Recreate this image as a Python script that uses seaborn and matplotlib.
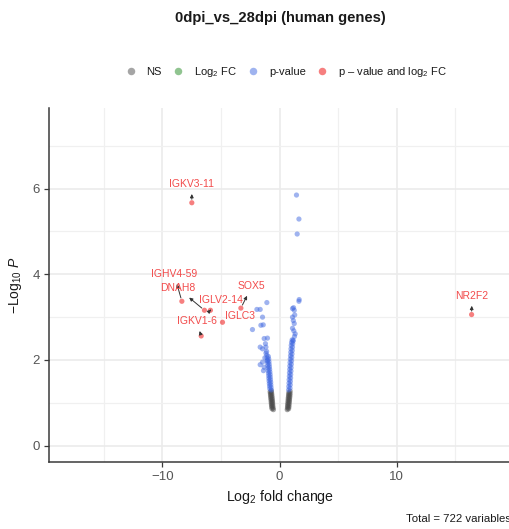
import matplotlib
matplotlib.use("Agg")
import matplotlib.pyplot as plt
import seaborn as sns
import pandas as pd
from matplotlib.lines import Line2D

# ---------------- data ----------------
# non-significant (grey) points: left and right arm bottoms
ns_x = [-0.52, -0.64, -0.55, -0.67, -0.57, -0.68, -0.58, -0.70, -0.59, -0.71, -0.60, -0.72,
        -0.62, -0.74, -0.63, -0.75, -0.65, -0.77, -0.66, -0.78, -0.68, -0.80, -0.70,
        0.66, 0.78, 0.68, 0.80, 0.69, 0.81, 0.70, 0.82, 0.72, 0.84, 0.73, 0.85,
        0.74, 0.86, 0.75, 0.88, 0.77, 0.89, 0.78, 0.90, 0.80, 0.91]
ns_y = [0.84, 0.86, 0.88, 0.90, 0.92, 0.94, 0.96, 0.98, 1.00, 1.02, 1.04, 1.06,
        1.08, 1.10, 1.12, 1.14, 1.16, 1.18, 1.20, 1.22, 1.24, 1.26, 1.28,
        0.84, 0.86, 0.88, 0.90, 0.92, 0.94, 0.96, 0.98, 1.00, 1.02, 1.04, 1.06,
        1.08, 1.10, 1.12, 1.14, 1.16, 1.18, 1.20, 1.22, 1.24, 1.27]

# p-value only (blue) points
pv_x = [-0.70, -0.83, -0.72, -0.85, -0.74, -0.87, -0.75, -0.89, -0.77, -0.91, -0.79, -0.92,
        -0.80, -0.94, -0.82, -0.96, -0.84, -0.98, -0.86, -1.00, -0.88, -1.02, -0.90, -1.04,
        -0.92, -1.06, -0.95, -1.08,
        -1.31, -1.03, -1.65, -1.45, -1.16, -1.20, -1.16, -1.65, -1.45, -1.31, -1.37,
        -1.08, -1.93, -1.65, -1.45, -1.39, -2.31, -1.59, -1.10, -1.25, -1.05,
        0.78, 0.90, 0.79, 0.92, 0.81, 0.93, 0.82, 0.95, 0.84, 0.96, 0.85, 0.98, 0.87,
        0.99, 0.88, 1.01, 0.90, 1.03, 0.92, 1.05, 0.94, 1.07, 0.96, 1.09, 0.98, 1.11,
        1.00, 1.13, 1.03, 1.15, 1.08,
        1.68, 1.66, 1.11, 1.26, 1.11, 1.26, 1.11, 1.34, 1.17, 1.20, 1.30, 1.18, 1.22, 1.28,
        1.45, 1.66, 1.51]
pv_y = [1.30, 1.33, 1.36, 1.39, 1.42, 1.45, 1.48, 1.51, 1.54, 1.57, 1.60, 1.63,
        1.66, 1.69, 1.72, 1.75, 1.78, 1.81, 1.84, 1.87, 1.90, 1.93, 1.96, 1.99,
        2.02, 2.05, 2.08, 2.11,
        2.50, 2.51, 2.30, 2.26, 2.30, 2.38, 2.16, 1.89, 1.95, 1.83, 1.75,
        3.34, 3.18, 3.18, 3.00, 2.82, 2.71, 2.81, 2.20, 2.05, 1.98,
        1.30, 1.34, 1.38, 1.42, 1.46, 1.50, 1.54, 1.58, 1.62, 1.66, 1.70, 1.74, 1.78,
        1.82, 1.86, 1.90, 1.94, 1.98, 2.02, 2.06, 2.10, 2.14, 2.18, 2.22, 2.26, 2.30,
        2.34, 2.38, 2.41, 2.44, 2.47,
        3.41, 3.37, 3.20, 3.16, 3.00, 2.85, 2.74, 2.61, 2.46, 3.22, 3.05, 2.92, 2.68, 2.55,
        5.85, 5.29, 4.94]

# p-value and log2 FC (red) labelled genes
sig_genes = ["IGKV3-11", "IGHV4-59", "DNAH8", "IGLV2-14", "SOX5", "IGLC3", "IGKV1-6", "NR2F2"]
sig_x = [-7.49, -8.34, -6.41, -5.90, -3.30, -4.87, -6.69, 16.41]
sig_y = [5.67, 3.37, 3.16, 3.16, 3.21, 2.88, 2.56, 3.06]
# repelled label positions
lab_x = [-7.49, -9.00, -8.66, -5.00, -2.36, -3.36, -7.09, 16.44]
lab_y = [6.10, 4.00, 3.67, 3.39, 3.72, 3.02, 2.90, 3.49]
lab_arrow = [True, True, True, True, True, False, True, True]

categories = ["NS", "Log$_2$ FC", "p-value", "p – value and log$_2$ FC"]
cat_colors = ["#4D4D4D", "#228B22", "#4169E1", "#EE0000"]
x_ticks = [-10, 0, 10]
y_ticks = [0, 2, 4, 6]
total_vars = 722

# ---------------- build table ----------------
df = pd.DataFrame({
    "log2FC": ns_x + pv_x + sig_x,
    "nlog10p": ns_y + pv_y + sig_y,
    "group": [categories[0]] * len(ns_x) + [categories[2]] * len(pv_x) + [categories[3]] * len(sig_x),
})

sns.set_theme(style="whitegrid")
plt.rcParams["font.family"] = ["Liberation Sans", "DejaVu Sans"]
plt.rcParams["mathtext.fontset"] = "custom"
plt.rcParams["mathtext.rm"] = "Liberation Sans"
plt.rcParams["mathtext.it"] = "Liberation Sans:italic"
plt.rcParams["mathtext.bf"] = "Liberation Sans:bold"

fig = plt.figure(figsize=(5.10, 5.29), dpi=100)
ax = fig.add_axes([49 / 510, 1 - 461.7 / 529, 1 - 49 / 510, (461.7 - 108.3) / 529])

palette = dict(zip(categories, cat_colors))
sns.scatterplot(data=df, x="log2FC", y="nlog10p", hue="group", hue_order=categories,
                palette=palette, alpha=0.5, s=14, linewidth=0, legend=False, ax=ax, zorder=3)

ax.set_xlim(-19.69, 19.69)
ax.set_ylim(-0.375, 7.875)
ax.set_xticks(x_ticks)
ax.set_yticks(y_ticks)
ax.set_xticks([-15, -5, 5, 15], minor=True)
ax.set_yticks([1, 3, 5, 7], minor=True)
ax.grid(True, which="major", color="#EBEBEB", lw=1.2)
ax.grid(True, which="minor", color="#F0F0F0", lw=0.9)
ax.set_axisbelow(True)
ax.set_facecolor("white")
for side in ["top", "right"]:
    ax.spines[side].set_visible(False)
for side in ["left", "bottom"]:
    ax.spines[side].set_visible(True)
    ax.spines[side].set_color("#3A3A3A")
    ax.spines[side].set_linewidth(1.1)
ax.tick_params(which="major", direction="out", length=3.5, width=0.9, color="#3A3A3A",
               labelsize=9.5, labelcolor="#555555", pad=3, bottom=True, left=True)
ax.tick_params(which="minor", length=0)

ax.set_xlabel("Log$_2$ fold change", fontsize=10.2, color="#1A1A1A", labelpad=4)
ax.set_ylabel("$-$Log$_{10}$ $P$", fontsize=10, color="#1A1A1A", labelpad=6)

# labels with connectors
for g, px, py, lx, ly, arr in zip(sig_genes, sig_x, sig_y, lab_x, lab_y, lab_arrow):
    props = None
    if arr:
        props = dict(arrowstyle="<|-", color="#333333", lw=0.7, mutation_scale=5,
                     shrinkA=1, shrinkB=2.5)
    ax.annotate(g, xy=(px, py), xytext=(lx, ly), textcoords="data",
                ha="center", va="center", fontsize=7.5, color="#F24B4B",
                arrowprops=props, zorder=5)

# title
fig.text(280 / 510, 1 - 18 / 529, "0dpi_vs_28dpi (human genes)", ha="center", va="center",
         fontsize=10.6, fontweight="bold", color="#1A1A1A")

# legend
handles = [Line2D([0], [0], marker="o", linestyle="none", markersize=5.4,
                  markerfacecolor=c, markeredgewidth=0, alpha=0.5) for c in cat_colors]
fig.legend(handles, categories, loc="center", bbox_to_anchor=(286 / 510, 1 - 72 / 529),
           ncol=4, frameon=False, fontsize=8.0, handlelength=1.0, handletextpad=0.9,
           columnspacing=1.0, labelcolor="#1A1A1A")

# caption
fig.text(511 / 510, 1 - 519 / 529, f"Total = {total_vars} variables", ha="right", va="center",
         fontsize=8.2, color="#1A1A1A")

fig.savefig("out.png", dpi=100)
